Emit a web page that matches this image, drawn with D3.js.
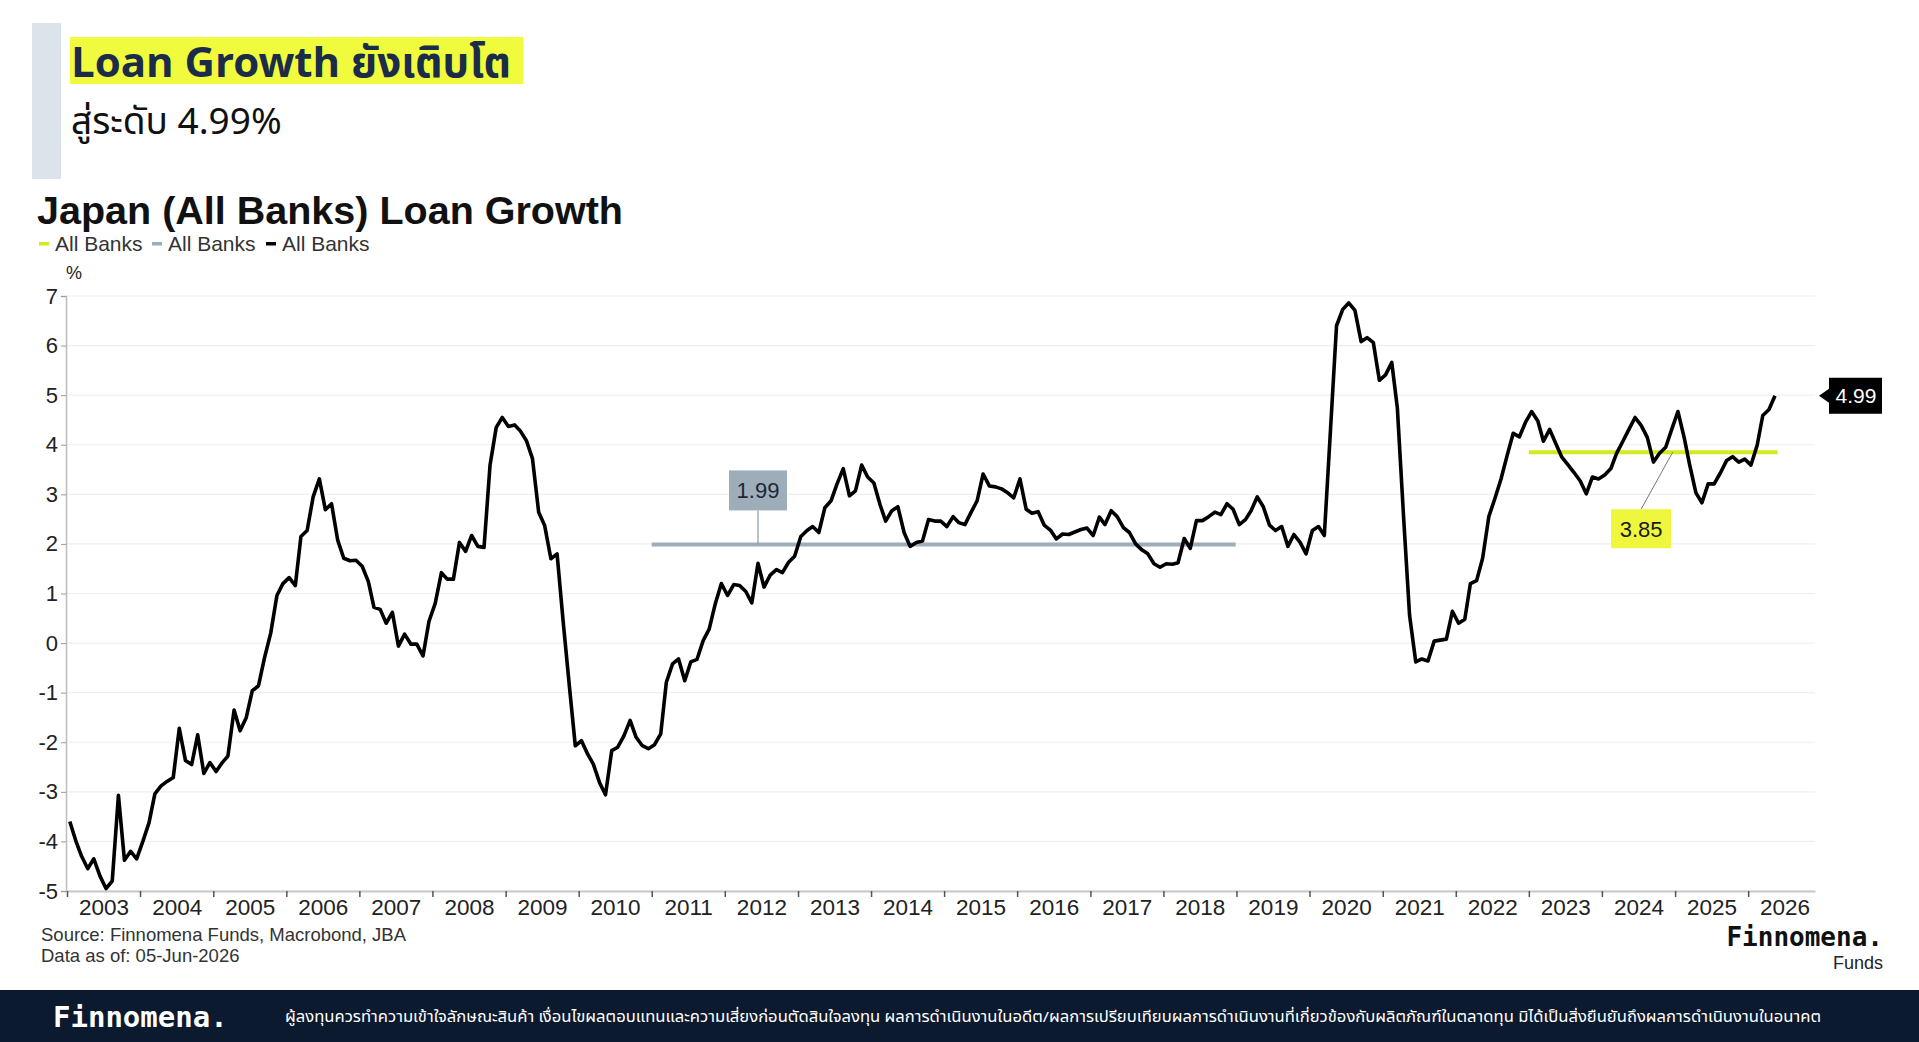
<!DOCTYPE html>
<html>
<head>
<meta charset="utf-8">
<script src="https://cdn.jsdelivr.net/npm/d3@7"></script>
<style>
  body { margin: 0; background: #fff; }
  svg { display: block; }
</style>
</head>
<body>
<div id="chart"></div>
<script>
// monthly values, Jan 2003 .. May 2026
const startYear = 2003
const loanGrowth = [
    -3.6, -4.0, -4.3, -4.55, -4.35, -4.7, -4.95, -4.8, -3.07, -4.38, -4.2, -4.35,    // 2003
    -4.0, -3.62, -3.04, -2.88, -2.79, -2.71, -1.72, -2.37, -2.45, -1.85, -2.63, -2.41, // 2004
    -2.59, -2.41, -2.28, -1.35, -1.77, -1.5, -0.96, -0.86, -0.28, 0.2, 0.96, 1.2,     // 2005
    1.32, 1.16, 2.15, 2.27, 2.95, 3.31, 2.69, 2.81, 2.07, 1.71, 1.66, 1.67,           // 2006
    1.55, 1.24, 0.72, 0.68, 0.4, 0.62, -0.06, 0.18, -0.02, -0.02, -0.26, 0.44,        // 2007
    0.8, 1.42, 1.29, 1.29, 2.03, 1.85, 2.17, 1.95, 1.93, 3.59, 4.35, 4.55,            // 2008
    4.37, 4.4, 4.28, 4.08, 3.72, 2.64, 2.37, 1.7, 1.8, 0.45, -0.85, -2.07,            // 2009
    -1.97, -2.24, -2.44, -2.81, -3.06, -2.17, -2.1, -1.87, -1.56, -1.9, -2.07, -2.13, // 2010
    -2.05, -1.83, -0.79, -0.42, -0.32, -0.76, -0.38, -0.33, 0.05, 0.28, 0.8, 1.2,    // 2011
    0.96, 1.18, 1.16, 1.04, 0.81, 1.61, 1.13, 1.37, 1.48, 1.42, 1.63, 1.75,           // 2012
    2.15, 2.27, 2.35, 2.23, 2.73, 2.87, 3.21, 3.52, 2.97, 3.07, 3.59, 3.35,           // 2013
    3.23, 2.79, 2.46, 2.67, 2.75, 2.23, 1.95, 2.03, 2.06, 2.49, 2.46, 2.46,           // 2014
    2.35, 2.55, 2.43, 2.39, 2.63, 2.87, 3.41, 3.17, 3.15, 3.11, 3.03, 2.93,           // 2015
    3.31, 2.7, 2.62, 2.65, 2.38, 2.28, 2.1, 2.2, 2.19, 2.24, 2.29, 2.32,              // 2016
    2.17, 2.54, 2.39, 2.67, 2.55, 2.33, 2.23, 2.0, 1.88, 1.8, 1.6, 1.53,              // 2017
    1.6, 1.59, 1.62, 2.11, 1.91, 2.47, 2.47, 2.55, 2.64, 2.59, 2.81, 2.7,             // 2018
    2.39, 2.49, 2.67, 2.95, 2.75, 2.38, 2.27, 2.35, 1.95, 2.19, 2.03, 1.8,            // 2019
    2.27, 2.35, 2.17, 4.31, 6.4, 6.73, 6.86, 6.71, 6.08, 6.16, 6.06, 5.3,             // 2020
    5.41, 5.66, 4.74, 2.55, 0.56, -0.38, -0.32, -0.36, 0.04, 0.06, 0.08, 0.64,        // 2021
    0.4, 0.48, 1.2, 1.26, 1.71, 2.55, 2.91, 3.31, 3.79, 4.23, 4.16, 4.45,             // 2022
    4.67, 4.48, 4.07, 4.31, 4.03, 3.75, 3.6, 3.44, 3.27, 3.01, 3.35, 3.31,            // 2023
    3.39, 3.52, 3.83, 4.07, 4.31, 4.55, 4.39, 4.15, 3.65, 3.83, 3.95, 4.31,           // 2024
    4.67, 4.15, 3.59, 3.03, 2.83, 3.21, 3.21, 3.43, 3.68, 3.76, 3.65, 3.71,           // 2025
    3.59, 3.99, 4.59, 4.71, 4.99                                                      // 2026
]
const yTicks = [-5, -4, -3, -2, -1, 0, 1, 2, 3, 4, 5, 6, 7]
const yearLabels = d3.range(2003, 2027)

// period averages drawn as flat lines
const avgFrom = ['2011-01', '2023-01']
const avgTo = ['2018-12', '2026-05']
const avgValue = [1.99, 3.85]
const avgLabel = ['1.99', '3.85']
const avgColor = ['#9dadba', '#d4ea1e']

const legendNames = ['All Banks', 'All Banks', 'All Banks']
const legendColors = ['#d4ea1e', '#9dadba', '#000000']

const disclaimer = 'ผู้ลงทุนควรทำความเข้าใจลักษณะสินค้า เงื่อนไขผลตอบแทนและความเสี่ยงก่อนตัดสินใจลงทุน ผลการดำเนินงานในอดีต/ผลการเปรียบเทียบผลการดำเนินงานที่เกี่ยวข้องกับผลิตภัณฑ์ในตลาดทุน มิได้เป็นสิ่งยืนยันถึงผลการดำเนินงานในอนาคต'

const W = 1919, H = 1042
const arial = 'Arial, "Liberation Sans", sans-serif'
const thai = '"Noto Sans Thai", "Noto Sans", "DejaVu Sans", sans-serif'
const mono = '"DejaVu Sans Mono", "Liberation Mono", monospace'

const svg = d3.select('#chart').append('svg')
    .attr('width', W)
    .attr('height', H)

svg.append('rect').attr('width', W).attr('height', H).attr('fill', '#fff')

// ---- header block
svg.append('rect').attr('x', 32).attr('y', 23).attr('width', 29).attr('height', 156).attr('fill', '#dce3ea')
svg.append('rect').attr('x', 70).attr('y', 37).attr('width', 453).attr('height', 47).attr('fill', '#effb3c')
svg.append('text')
    .attr('x', 71).attr('y', 77)
    .attr('font-family', thai).attr('font-weight', 700).attr('font-size', '42px')
    .attr('fill', '#1b2b4a')
    .text('Loan Growth ยังเติบโต')
svg.append('text')
    .attr('x', 71).attr('y', 134)
    .attr('font-family', thai).attr('font-size', '37px')
    .attr('fill', '#111')
    .text('สู่ระดับ 4.99%')

// ---- chart title + legend
svg.append('text')
    .attr('x', 37).attr('y', 224)
    .attr('font-family', arial).attr('font-weight', 700).attr('font-size', '39.5px')
    .attr('fill', '#111')
    .text('Japan (All Banks) Loan Growth')

const legendX = [39, 152, 266]
legendNames.forEach((name, i) => {
    svg.append('rect')
        .attr('x', legendX[i]).attr('y', 242)
        .attr('width', 10).attr('height', 3.5)
        .attr('fill', legendColors[i])
    svg.append('text')
        .attr('x', legendX[i] + 16).attr('y', 251)
        .attr('font-family', arial).attr('font-size', '21px')
        .attr('fill', '#333')
        .text(name)
})

svg.append('text')
    .attr('x', 74).attr('y', 279)
    .attr('text-anchor', 'middle')
    .attr('font-family', arial).attr('font-size', '18px')
    .attr('fill', '#222')
    .text('%')

// ---- scales
const x = d3.scaleTime()
    .domain([new Date(2003, 0, 1), new Date(2026, 11, 1)])
    .range([67, 1815])
const y = d3.scaleLinear()
    .domain([-5, 7])
    .range([891, 296])

const data = loanGrowth.map((v, i) => ({ date: new Date(startYear, i, 15), value: v }))

// gridlines
svg.append('g').selectAll('line')
    .data(yTicks)
    .join('line')
    .attr('x1', x.range()[0]).attr('x2', x.range()[1])
    .attr('y1', d => y(d)).attr('y2', d => y(d))
    .attr('stroke', '#efefef')
    .attr('stroke-width', 1.2)

// y axis (plain hyphen for negatives, as in the source chart)
const yAxis = svg.append('g')
    .attr('transform', 'translate(66,0)')
    .call(d3.axisLeft(y).tickValues(yTicks).tickSize(5).tickPadding(3).tickFormat(d => String(d)))
yAxis.select('.domain').attr('stroke', '#bdbdbd').attr('stroke-width', 1.5)
yAxis.selectAll('.tick line').attr('stroke', '#999')
yAxis.selectAll('.tick text')
    .attr('font-family', arial).attr('font-size', '22px').attr('fill', '#222')

// x axis: year ticks + labels centred in each year
const xAxis = svg.append('g')
    .attr('transform', 'translate(0,891)')
    .call(d3.axisBottom(x).ticks(d3.timeYear.every(1)).tickSize(6).tickSizeOuter(0).tickFormat(''))
xAxis.select('.domain').attr('stroke', '#c8c8c8').attr('stroke-width', 2)
xAxis.selectAll('.tick line').attr('stroke', '#555').attr('stroke-width', 1.5)

const xLabels = svg.append('g')
    .attr('transform', 'translate(0,891)')
    .call(d3.axisBottom(x)
        .tickValues(yearLabels.map(yr => new Date(yr, 6, 2)))
        .tickSize(0).tickPadding(8)
        .tickFormat(d3.timeFormat('%Y')))
xLabels.select('.domain').remove()
xLabels.selectAll('.tick text')
    .attr('font-family', arial).attr('font-size', '22.5px').attr('fill', '#222')

// average lines
avgValue.forEach((v, i) => {
    const [fy, fm] = avgFrom[i].split('-').map(Number)
    const [ty, tm] = avgTo[i].split('-').map(Number)
    svg.append('line')
        .attr('x1', x(new Date(fy, fm - 1, 1))).attr('x2', x(new Date(ty, tm - 1, 28)))
        .attr('y1', y(v)).attr('y2', y(v))
        .attr('stroke', avgColor[i])
        .attr('stroke-width', 4)
})

// main series
svg.append('path')
    .datum(data)
    .attr('fill', 'none')
    .attr('stroke', '#000')
    .attr('stroke-width', 3.6)
    .attr('stroke-linejoin', 'round')
    .attr('d', d3.line().x(d => x(d.date)).y(d => y(d.value)))

// label for the 2011-2018 average
{
    const ax = x(new Date(2012, 5, 15))
    const ay = y(avgValue[0])
    svg.append('line')
        .attr('x1', ax).attr('x2', ax)
        .attr('y1', ay - 34).attr('y2', ay)
        .attr('stroke', '#8a9aa6').attr('stroke-width', 1.2)
    svg.append('rect')
        .attr('x', ax - 29).attr('y', ay - 74)
        .attr('width', 58).attr('height', 40)
        .attr('fill', avgColor[0])
    svg.append('text')
        .attr('x', ax).attr('y', ay - 46)
        .attr('text-anchor', 'middle')
        .attr('font-family', arial).attr('font-size', '22px')
        .attr('fill', '#1e2833')
        .text(avgLabel[0])
}

// label for the 2023-2026 average
{
    const lx = x(new Date(2024, 11, 20))
    const ly = y(avgValue[1])
    const bx = x(new Date(2024, 6, 15))
    const by = ly + 57
    svg.append('line')
        .attr('x1', lx).attr('y1', ly)
        .attr('x2', bx).attr('y2', by)
        .attr('stroke', '#777').attr('stroke-width', 1)
    svg.append('rect')
        .attr('x', bx - 30).attr('y', by)
        .attr('width', 60).attr('height', 39)
        .attr('fill', '#eef73e')
    svg.append('text')
        .attr('x', bx).attr('y', by + 28)
        .attr('text-anchor', 'middle')
        .attr('font-family', arial).attr('font-size', '22px')
        .attr('fill', '#1a1a1a')
        .text(avgLabel[1])
}

// last value tag
{
    const last = data[data.length - 1]
    const ty = y(last.value)
    const tx = x.range()[1] + 4
    svg.append('path')
        .attr('d', `M${tx},${ty} L${tx + 10},${ty - 7} L${tx + 10},${ty - 18} L${tx + 63},${ty - 18} L${tx + 63},${ty + 18} L${tx + 10},${ty + 18} L${tx + 10},${ty + 7} Z`)
        .attr('fill', '#000')
    svg.append('text')
        .attr('x', tx + 37).attr('y', ty + 7.5)
        .attr('text-anchor', 'middle')
        .attr('font-family', arial).attr('font-size', '21px')
        .attr('fill', '#fff')
        .text(d3.format('.2f')(last.value))
}

// ---- source
svg.append('text')
    .attr('x', 41).attr('y', 941)
    .attr('font-family', arial).attr('font-size', '18.5px').attr('fill', '#333')
    .text('Source: Finnomena Funds, Macrobond, JBA')
svg.append('text')
    .attr('x', 41).attr('y', 962)
    .attr('font-family', arial).attr('font-size', '18.5px').attr('fill', '#333')
    .text('Data as of: 05-Jun-2026')

// ---- logo
svg.append('text')
    .attr('x', 1883).attr('y', 946)
    .attr('text-anchor', 'end')
    .attr('font-family', mono).attr('font-weight', 700).attr('font-size', '26px')
    .attr('fill', '#111')
    .text('Finnomena.')
svg.append('text')
    .attr('x', 1883).attr('y', 969)
    .attr('text-anchor', 'end')
    .attr('font-family', arial).attr('font-size', '18px')
    .attr('fill', '#222')
    .text('Funds')

// ---- footer bar
svg.append('rect').attr('x', 0).attr('y', 990).attr('width', W).attr('height', 52).attr('fill', '#0b1a2e')
svg.append('text')
    .attr('x', 53).attr('y', 1027)
    .attr('font-family', mono).attr('font-weight', 700).attr('font-size', '29px')
    .attr('fill', '#fff')
    .text('Finnomena.')
svg.append('text')
    .attr('x', 285).attr('y', 1022)
    .attr('font-family', thai).attr('font-size', '15px')
    .attr('textLength', 1536).attr('lengthAdjust', 'spacingAndGlyphs')
    .attr('fill', '#fff')
    .text(disclaimer)
</script>
</body>
</html>
